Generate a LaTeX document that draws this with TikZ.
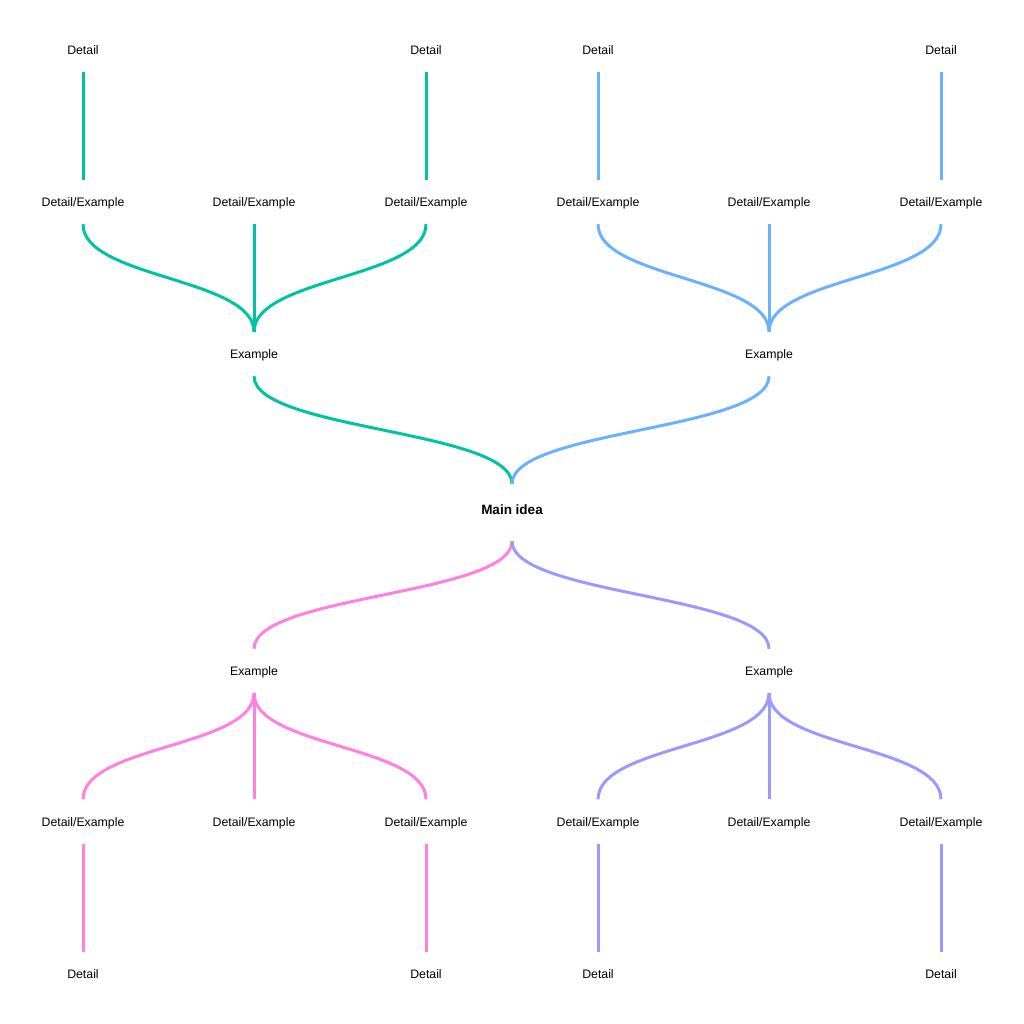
\documentclass[tikz,border=0pt]{standalone}
\usepackage{fontspec}
\setmainfont{Liberation Sans}
\definecolor{cteal}{HTML}{00C2A4}
\definecolor{cblue}{HTML}{6AB2FF}
\definecolor{cpink}{HTML}{FF80E0}
\definecolor{cpurp}{HTML}{9999FF}
\tikzset{
  lbl/.style={inner sep=0pt, minimum height=44pt, text height=9pt, text depth=0pt, font=\fontsize{12.3}{14}\selectfont, text=black},
  mainlbl/.style={inner sep=0pt, minimum height=57pt, text height=9.7pt, text depth=5pt, font=\fontsize{13.5}{16}\selectfont\bfseries, text=black},
  conn/.style={line width=3pt, line cap=butt},
}
\begin{document}
\begin{tikzpicture}[x=1pt,y=-1pt]
\useasboundingbox (0,0) rectangle (1024,1024);
% top half
\node[lbl] (td1) at (83,50) {Detail};
\node[lbl] (td3) at (426,50) {Detail};
\node[lbl] (td4) at (598,50) {Detail};
\node[lbl] (td6) at (941,50) {Detail};
\node[lbl] (tde1) at (83,202) {Detail/Example};
\node[lbl] (tde2) at (254,202) {Detail/Example};
\node[lbl] (tde3) at (426,202) {Detail/Example};
\node[lbl] (tde4) at (598,202) {Detail/Example};
\node[lbl] (tde5) at (769,202) {Detail/Example};
\node[lbl] (tde6) at (941,202) {Detail/Example};
\node[lbl] (tex1) at (254,354) {Example};
\node[lbl] (tex2) at (769,354) {Example};
\node[mainlbl] (main) at (512,512.5) {Main idea};
% bottom half
\node[lbl] (bex1) at (254,671) {Example};
\node[lbl] (bex2) at (769,671) {Example};
\node[lbl] (bde1) at (83,821.5) {Detail/Example};
\node[lbl] (bde2) at (254,821.5) {Detail/Example};
\node[lbl] (bde3) at (426,821.5) {Detail/Example};
\node[lbl] (bde4) at (598,821.5) {Detail/Example};
\node[lbl] (bde5) at (769,821.5) {Detail/Example};
\node[lbl] (bde6) at (941,821.5) {Detail/Example};
\node[lbl] (bd1) at (83,974) {Detail};
\node[lbl] (bd3) at (426,974) {Detail};
\node[lbl] (bd4) at (598,974) {Detail};
\node[lbl] (bd6) at (941,974) {Detail};

% top teal
\draw[conn,cteal] (td1.south) -- (tde1.north);
\draw[conn,cteal] (td3.south) -- (tde3.north);
\draw[conn,cteal] (tde1.south) .. controls +(0,54) and +(0,-54) .. (tex1.north);
\draw[conn,cteal] (tde2.south) -- (tex1.north);
\draw[conn,cteal] (tde3.south) .. controls +(0,54) and +(0,-54) .. (tex1.north);
\draw[conn,cteal] (tex1.south) .. controls +(0,54) and +(0,-54) .. (main.north);
% top blue
\draw[conn,cblue] (td4.south) -- (tde4.north);
\draw[conn,cblue] (td6.south) -- (tde6.north);
\draw[conn,cblue] (tde4.south) .. controls +(0,54) and +(0,-54) .. (tex2.north);
\draw[conn,cblue] (tde5.south) -- (tex2.north);
\draw[conn,cblue] (tde6.south) .. controls +(0,54) and +(0,-54) .. (tex2.north);
\draw[conn,cblue] (tex2.south) .. controls +(0,54) and +(0,-54) .. (main.north);
% bottom pink
\draw[conn,cpink] (main.south) .. controls +(0,54) and +(0,-54) .. (bex1.north);
\draw[conn,cpink] (bex1.south) .. controls +(0,54) and +(0,-54) .. (bde1.north);
\draw[conn,cpink] (bex1.south) -- (bde2.north);
\draw[conn,cpink] (bex1.south) .. controls +(0,54) and +(0,-54) .. (bde3.north);
\draw[conn,cpink] (bde1.south) -- (bd1.north);
\draw[conn,cpink] (bde3.south) -- (bd3.north);
% bottom purple
\draw[conn,cpurp] (main.south) .. controls +(0,54) and +(0,-54) .. (bex2.north);
\draw[conn,cpurp] (bex2.south) .. controls +(0,54) and +(0,-54) .. (bde4.north);
\draw[conn,cpurp] (bex2.south) -- (bde5.north);
\draw[conn,cpurp] (bex2.south) .. controls +(0,54) and +(0,-54) .. (bde6.north);
\draw[conn,cpurp] (bde4.south) -- (bd4.north);
\draw[conn,cpurp] (bde6.south) -- (bd6.north);
\end{tikzpicture}
\end{document}
